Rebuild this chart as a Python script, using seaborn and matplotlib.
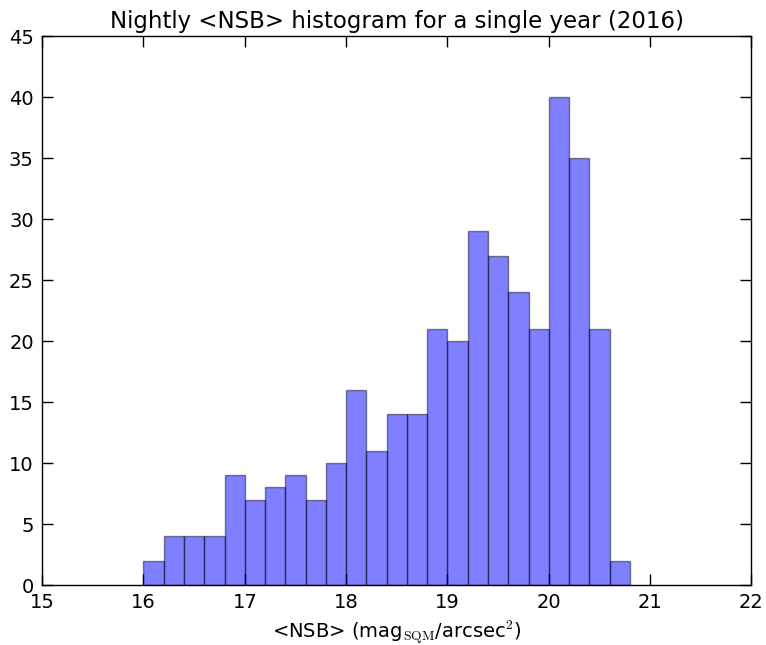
import matplotlib
matplotlib.use("Agg")
import matplotlib.pyplot as plt
import seaborn as sns
import numpy as np
import pandas as pd

# bin edges and counts (bin width 0.2)
bin_left = [16.0, 16.2, 16.4, 16.6, 16.8, 17.0, 17.2, 17.4, 17.6, 17.8,
            18.0, 18.2, 18.4, 18.6, 18.8, 19.0, 19.2, 19.4, 19.6, 19.8,
            20.0, 20.2, 20.4, 20.6]
counts = [2, 4, 4, 4, 9, 7, 8, 9, 7, 10,
          16, 11, 14, 14, 21, 20, 29, 27, 24, 21,
          40, 35, 21, 2]
bin_width = 0.2

sns.set_style("ticks")
plt.rcParams['font.family'] = ['DejaVu Sans']
plt.rcParams['mathtext.fontset'] = 'cm'
plt.rcParams['text.color'] = 'black'
plt.rcParams['axes.labelcolor'] = 'black'
plt.rcParams['xtick.color'] = 'black'
plt.rcParams['ytick.color'] = 'black'

df = pd.DataFrame({'nsb': np.array(bin_left) + bin_width / 2,
                   'n': counts})

fig, ax = plt.subplots(figsize=(7.66, 6.45), dpi=100)
fig.subplots_adjust(left=0.055, right=0.981, top=0.944, bottom=0.093)

sns.histplot(data=df, x='nsb', weights='n', binwidth=bin_width,
             binrange=(bin_left[0], bin_left[-1] + bin_width), ax=ax,
             color='blue', alpha=0.5, edgecolor='black', linewidth=1.0)
# make edges semi-transparent too, like the original
for p in ax.patches:
    p.set_alpha(None)
    p.set_facecolor((0, 0, 1, 0.5))
    p.set_edgecolor((0, 0, 0, 0.45))

ax.set_xlim(15, 22)
ax.set_ylim(0, 45)
ax.set_xticks(range(15, 23))
ax.set_yticks(range(0, 46, 5))
ax.tick_params(direction='in', top=True, right=True, length=8, width=1,
               labelsize=14, pad=6, colors='black')
for s in ax.spines.values():
    s.set_linewidth(1.0)
    s.set_color('black')

ax.set_title('Nightly <NSB> histogram for a single year (2016)', fontsize=16.5,
             color='black')
ax.set_xlabel(r'<NSB> (mag$_{\rm SQM}$/arcsec$^2$)', fontsize=14,
              color='black')
ax.set_ylabel('')

fig.savefig('out.png', dpi=100)
